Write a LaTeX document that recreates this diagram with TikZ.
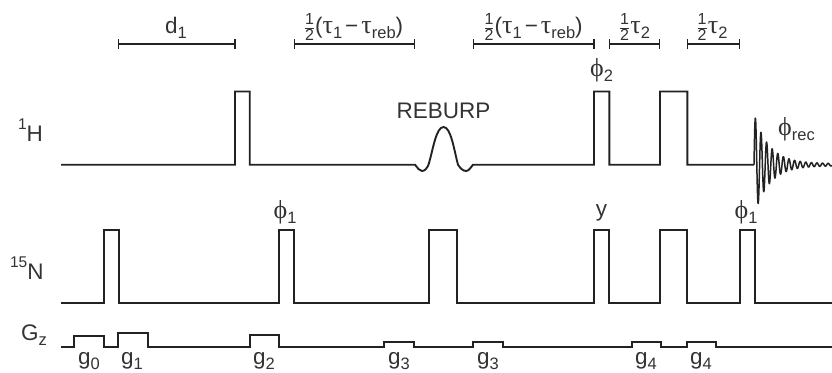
\documentclass[tikz,border=0pt]{standalone}
\usepackage{fontspec}
\setsansfont{Liberation Sans}
\newfontfamily\symfont{Liberation Serif}
\usetikzlibrary{arrows.meta}
\definecolor{inkcol}{HTML}{222222}
\definecolor{textcol}{HTML}{333333}
\newcommand{\lowtext}[1]{\raisebox{-0.24em}{\fontsize{16.5}{16.5}\selectfont #1}}
\newcommand{\hightext}[1]{\raisebox{0.5em}{\fontsize{15.5}{15.5}\selectfont #1}}
\newcommand{\halfterm}{$\frac{\mbox{\fontsize{16}{16}\selectfont 1}}{\mbox{\fontsize{16}{16}\selectfont 2}}$}
\newcommand{\taufont}{{\symfont\fontsize{26}{26}\selectfont τ}}
\newcommand{\phifont}{{\symfont\fontsize{26}{26}\selectfont ϕ}}

\begin{document}
\begin{tikzpicture}[x = 1pt, y = -1pt, font=\sffamily\fontsize{22.5}{27}\selectfont]
	\tikzstyle{pulseStyle} = [draw = inkcol, line width = 1.9pt, line join = miter]
	\tikzstyle{fidStyle} = [draw = inkcol, line width = 1.5pt, line join = round]
	\tikzstyle{delayStyle} = [draw = inkcol, line width = 1.3pt, {Bar[width = 10.5pt]}-{Bar[width = 10.5pt]}]
	\tikzstyle{labelStyle} = [anchor = base, inner sep = 0pt, text = textcol]
	\useasboundingbox (0, 0) rectangle (832, 372);

	% delays
	\coordinate (d0) at (118, 44);
	\coordinate (d1) at (235.5, 44);
	\coordinate (d2) at (293.5, 44);
	\coordinate (d3) at (415, 44);
	\coordinate (d4) at (473, 44);
	\coordinate (d5) at (594.5, 44);
	\coordinate (d6) at (609, 44);
	\coordinate (d7) at (660, 44);
	\coordinate (d8) at (687, 44);
	\coordinate (d9) at (740, 44);
	\draw[delayStyle] (d0) -- (d1);
	\draw[delayStyle] (d2) -- (d3);
	\draw[delayStyle] (d4) -- (d5);
	\draw[delayStyle] (d6) -- (d7);
	\draw[delayStyle] (d8) -- (d9);
	\node[labelStyle] (ld0) at (176, 33) {d\lowtext{1}};
	\node[labelStyle] (ld1) at (353.5, 33) {\halfterm(\taufont\lowtext{1}\hspace{3pt}−\hspace{3pt}\taufont\lowtext{reb})};
	\node[labelStyle] (ld2) at (533, 33) {\halfterm(\taufont\lowtext{1}\hspace{3pt}−\hspace{3pt}\taufont\lowtext{reb})};
	\node[labelStyle] (ld3) at (634.5, 33) {\halfterm\taufont\lowtext{2}};
	\node[labelStyle] (ld4) at (712, 33) {\halfterm\taufont\lowtext{2}};

	% 1H channel
	\node[labelStyle] (lH) at (30.5, 141) {\hightext{1}H};
	\draw[pulseStyle] (61, 164.7) -- (235, 164.7) -- (235, 91.5) -- (249.7, 91.5) -- (249.7, 164.7) -- (415, 164.7)
		.. controls (418, 168) and (419, 171) .. (422, 171)
		.. controls (425, 171) and (427, 168) .. (428.5, 164.7)
		.. controls (433, 150) and (436, 127) .. (443.5, 127)
		.. controls (451, 127) and (454, 150) .. (458, 164.7)
		.. controls (460, 168) and (463, 171) .. (466, 171)
		.. controls (469, 171) and (471, 167) .. (473, 164.7)
		-- (594, 164.7) -- (594, 91.5) -- (609.3, 91.5) -- (609.3, 164.7)
		-- (660, 164.7) -- (660, 91.5) -- (687.3, 91.5) -- (687.3, 164.7) -- (754, 164.7);
	\draw[fidStyle] plot[domain = 0:78, samples = 500, smooth] ({754 + \x}, {164.7 - (50*exp(-\x/15) + 1)*sin(64.29*\x)});
	\node[labelStyle] (lREB) at (443.5, 118) {REBURP};
	\node[labelStyle] (lphi2) at (601.5, 76) {\phifont\lowtext{2}};
	\node[labelStyle] (lrec) at (796.5, 135) {\phifont\lowtext{rec}};

	% 15N channel
	\node[labelStyle] (lN) at (26.8, 279) {\hightext{15}N};
	\draw[pulseStyle] (61, 303.3) -- (104, 303.3) -- (104, 230) -- (118.7, 230) -- (118.7, 303.3)
		-- (279.3, 303.3) -- (279.3, 230) -- (294, 230) -- (294, 303.3)
		-- (429.3, 303.3) -- (429.3, 230) -- (456.7, 230) -- (456.7, 303.3)
		-- (594, 303.3) -- (594, 230) -- (609.3, 230) -- (609.3, 303.3)
		-- (660, 303.3) -- (660, 230) -- (687.3, 230) -- (687.3, 303.3)
		-- (740, 303.3) -- (740, 230) -- (754.7, 230) -- (754.7, 303.3) -- (832, 303.3);
	\node[labelStyle] (lphi1a) at (285, 218) {\phifont\lowtext{1}};
	\node[labelStyle] (ly) at (601.5, 216.7) {y};
	\node[labelStyle] (lphi1b) at (746, 218) {\phifont\lowtext{1}};

	% Gz channel
	\node[labelStyle] (lG) at (34, 340) {G\lowtext{z}};
	\draw[pulseStyle] (61, 347.3) -- (74, 347.3) -- (74, 335.7) -- (104, 335.7) -- (104, 347.3)
		-- (118, 347.3) -- (118, 333.3) -- (148, 333.3) -- (148, 347.3)
		-- (250, 347.3) -- (250, 335) -- (279.3, 335) -- (279.3, 347.3)
		-- (384.3, 347.3) -- (384.3, 342) -- (414, 342) -- (414, 347.3)
		-- (472.7, 347.3) -- (472.7, 342) -- (502.7, 342) -- (502.7, 347.3)
		-- (631.7, 347.3) -- (631.7, 342) -- (661, 342) -- (661, 347.3)
		-- (686.7, 347.3) -- (686.7, 342) -- (716, 342) -- (716, 347.3) -- (832, 347.3);
	\node[labelStyle] (lg0) at (89, 364.5) {g\lowtext{0}};
	\node[labelStyle] (lg1) at (132, 364.5) {g\lowtext{1}};
	\node[labelStyle] (lg2) at (264, 364.5) {g\lowtext{2}};
	\node[labelStyle] (lg3a) at (399, 364.5) {g\lowtext{3}};
	\node[labelStyle] (lg3b) at (488, 364.5) {g\lowtext{3}};
	\node[labelStyle] (lg4a) at (646, 364.5) {g\lowtext{4}};
	\node[labelStyle] (lg4b) at (701, 364.5) {g\lowtext{4}};
\end{tikzpicture}
\end{document}
